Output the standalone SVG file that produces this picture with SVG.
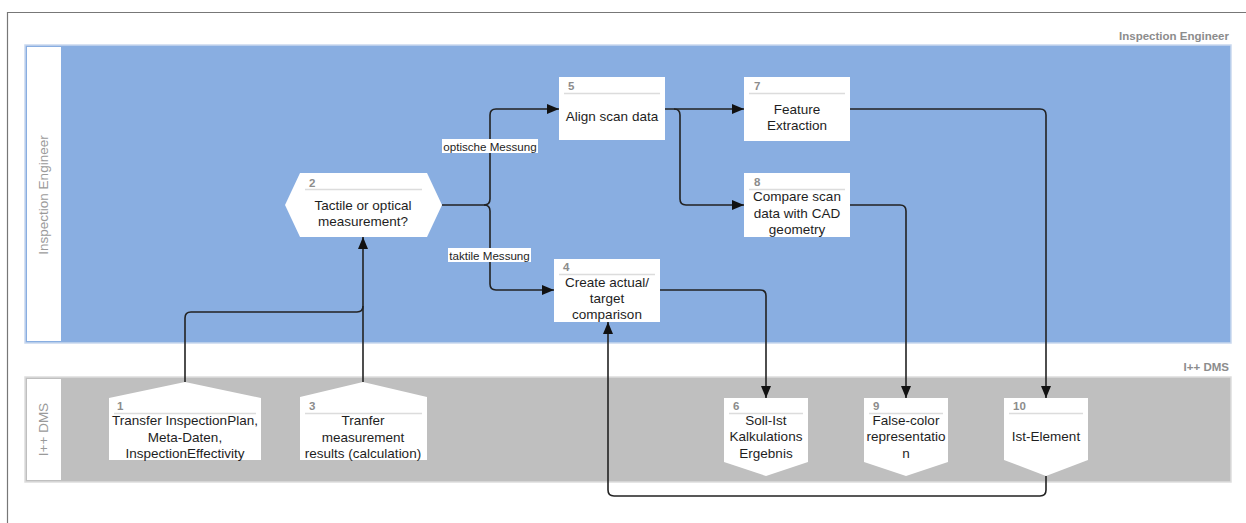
<svg xmlns="http://www.w3.org/2000/svg" width="1246" height="523" viewBox="0 0 1246 523">
<style>
.node{fill:#ffffff;stroke:none}
.sep{stroke:#dcdcdc;stroke-width:1.5}
.num{font-family:"Liberation Sans",Arial,sans-serif;font-size:11.5px;font-weight:bold;fill:#8c8c8c}
.txt{font-family:"Liberation Sans",Arial,sans-serif;font-size:13.5px;fill:#1e1e1e;text-anchor:middle}
.lbl{font-family:"Liberation Sans",Arial,sans-serif;font-size:11.6px;fill:#1e1e1e;text-anchor:middle}
.lanehdr{font-family:"Liberation Sans",Arial,sans-serif;font-size:13.5px;fill:#9a9a9a;text-anchor:middle}
.lanetitle{font-family:"Liberation Sans",Arial,sans-serif;font-size:11.5px;font-weight:bold;fill:#8c8c8c;text-anchor:end}
.conn{fill:none;stroke:#222;stroke-width:1.6}
</style>
<defs>
<marker id="arr" markerUnits="userSpaceOnUse" markerWidth="12" markerHeight="10" refX="12" refY="5" orient="auto">
<path d="M0,0 L12,5 L0,10 z" fill="#111"/>
</marker>
</defs>
<rect x="0" y="0" width="1246" height="523" fill="#ffffff"/>
<!-- frame -->
<path d="M7.5,523 V12.5 H1246" fill="none" stroke="#777" stroke-width="1.2"/>
<!-- lanes -->
<g id="lane-inspection-engineer">
<text class="lanetitle" x="1229" y="40">Inspection Engineer</text>
<rect x="25" y="45" width="1206" height="298" fill="#89aee1" stroke="#c9d8ee" stroke-width="1.5"/>
<rect x="27" y="47" width="34" height="294" fill="#ffffff"/>
<text class="lanehdr" transform="translate(48,195) rotate(-90)">Inspection Engineer</text>
</g>
<g id="lane-dms">
<text class="lanetitle" x="1229" y="371">I++ DMS</text>
<rect x="25" y="377" width="1206" height="105" fill="#bfbfbf" stroke="#dddddd" stroke-width="1.5"/>
<rect x="27" y="379" width="34" height="101" fill="#ffffff"/>
<text class="lanehdr" transform="translate(48,429.5) rotate(-90)">I++ DMS</text>
</g>
<!-- connectors -->
<g id="connectors">
<path class="conn" d="M185,382 V318 Q185,312 191,312 H357 Q363,312 363,306"/>
<path class="conn" d="M363,382 V237" marker-end="url(#arr)"/>
<path class="conn" d="M442,205 H484 Q490,205 490,199 V115 Q490,109 496,109 H559" marker-end="url(#arr)"/>
<path class="conn" d="M484,205 Q490,205 490,211 V284 Q490,290 496,290 H554" marker-end="url(#arr)"/>
<path class="conn" d="M665,109 H744" marker-end="url(#arr)"/>
<path class="conn" d="M674,109 Q680,109 680,115 V199 Q680,205 686,205 H744" marker-end="url(#arr)"/>
<path class="conn" d="M850,109 H1040 Q1046,109 1046,115 V398" marker-end="url(#arr)"/>
<path class="conn" d="M850,205 H900 Q906,205 906,211 V398" marker-end="url(#arr)"/>
<path class="conn" d="M660,290 H760 Q766,290 766,296 V398" marker-end="url(#arr)"/>
<path class="conn" d="M1046,476 V490 Q1046,496 1040,496 H614 Q608,496 608,490 V322" marker-end="url(#arr)"/>
<rect x="442" y="139" width="96" height="14" fill="#ffffff"/>
<text class="lbl" x="490" y="150.5">optische Messung</text>
<rect x="448" y="248" width="83" height="14" fill="#ffffff"/>
<text class="lbl" x="489.5" y="259.5">taktile Messung</text>
</g>
<!-- nodes -->
<g id="node1">
<polygon class="node" points="109,398 185,382 261,398 261,460 109,460"/>
<text class="num" x="117" y="410">1</text>
<line class="sep" x1="114" y1="413.5" x2="256" y2="413.5"/>
<text class="txt" x="185" y="425">Transfer InspectionPlan,</text>
<text class="txt" x="185" y="442">Meta-Daten,</text>
<text class="txt" x="185" y="458">InspectionEffectivity</text>
</g>
<g id="node2">
<polygon class="node" points="285,205 300,173 427,173 442,205 427,237 300,237"/>
<text class="num" x="309" y="187">2</text>
<line class="sep" x1="305" y1="189.5" x2="422" y2="189.5"/>
<text class="txt" x="363" y="210">Tactile or optical</text>
<text class="txt" x="363" y="226">measurement?</text>
</g>
<g id="node3">
<polygon class="node" points="300,397 363,382 427,397 427,460 300,460"/>
<text class="num" x="309" y="410">3</text>
<line class="sep" x1="305" y1="413.5" x2="422" y2="413.5"/>
<text class="txt" x="363" y="425">Tranfer</text>
<text class="txt" x="363" y="442">measurement</text>
<text class="txt" x="363" y="458">results (calculation)</text>
</g>
<g id="node4">
<rect class="node" x="554" y="259" width="106" height="63"/>
<text class="num" x="563" y="271">4</text>
<line class="sep" x1="559" y1="274.5" x2="655" y2="274.5"/>
<text class="txt" x="607" y="287">Create actual/</text>
<text class="txt" x="607" y="303">target</text>
<text class="txt" x="607" y="319">comparison</text>
</g>
<g id="node5">
<rect class="node" x="559" y="77" width="106" height="63"/>
<text class="num" x="568" y="90">5</text>
<line class="sep" x1="564" y1="93.5" x2="660" y2="93.5"/>
<text class="txt" x="612" y="121">Align scan data</text>
</g>
<g id="node6">
<polygon class="node" points="724,398 808,398 808,462 766,476 724,462"/>
<text class="num" x="733" y="410">6</text>
<line class="sep" x1="729" y1="413.5" x2="803" y2="413.5"/>
<text class="txt" x="766" y="425">Soll-Ist</text>
<text class="txt" x="766" y="441">Kalkulations</text>
<text class="txt" x="766" y="458">Ergebnis</text>
</g>
<g id="node7">
<rect class="node" x="744" y="77" width="106" height="64"/>
<text class="num" x="754" y="90">7</text>
<line class="sep" x1="749" y1="93.5" x2="845" y2="93.5"/>
<text class="txt" x="797" y="114">Feature</text>
<text class="txt" x="797" y="130">Extraction</text>
</g>
<g id="node8">
<rect class="node" x="744" y="173" width="106" height="64"/>
<text class="num" x="754" y="186">8</text>
<line class="sep" x1="749" y1="189.5" x2="845" y2="189.5"/>
<text class="txt" x="797" y="201">Compare scan</text>
<text class="txt" x="797" y="218">data with CAD</text>
<text class="txt" x="797" y="234">geometry</text>
</g>
<g id="node9">
<polygon class="node" points="864,398 948,398 948,462 906,476 864,462"/>
<text class="num" x="873" y="410">9</text>
<line class="sep" x1="869" y1="413.5" x2="943" y2="413.5"/>
<text class="txt" x="906" y="425">False-color</text>
<text class="txt" x="906" y="441">representatio</text>
<text class="txt" x="906" y="458">n</text>
</g>
<g id="node10">
<polygon class="node" points="1004,398 1088,398 1088,460 1046,476 1004,460"/>
<text class="num" x="1013" y="410">10</text>
<line class="sep" x1="1009" y1="413.5" x2="1083" y2="413.5"/>
<text class="txt" x="1046" y="441">Ist-Element</text>
</g>
</svg>
